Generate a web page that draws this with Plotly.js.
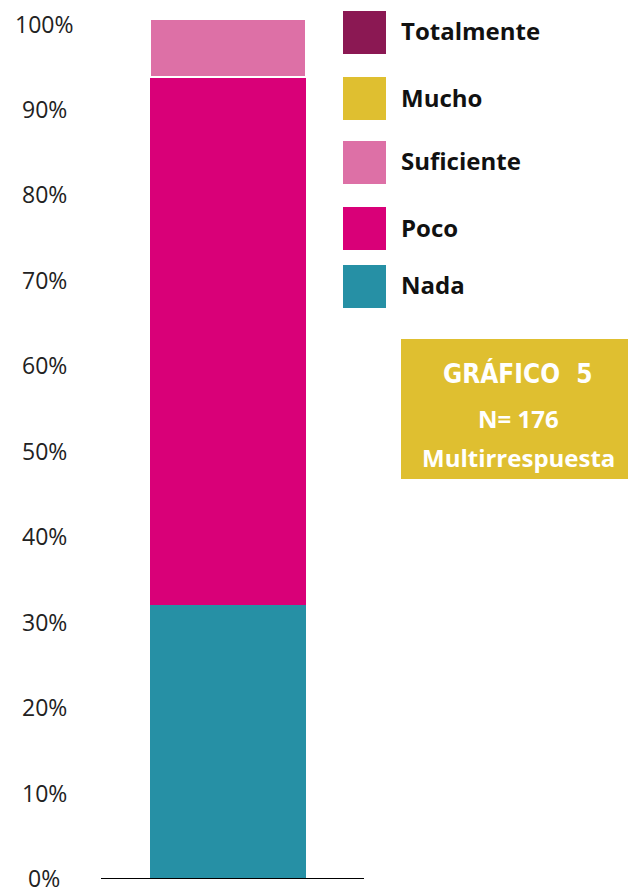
<!DOCTYPE html>
<html>
<head>
<meta charset="utf-8">
<script src="https://cdn.plot.ly/plotly-3.0.1.min.js"></script>
<style>html,body{margin:0;padding:0;background:#fff;}#chart{width:629px;height:888px;}</style>
</head>
<body>
<div id="chart"></div>
<script>
// ---- data ----
const categories = ['Nada', 'Poco', 'Suficiente', 'Mucho', 'Totalmente'];
const values = [32.0, 61.7, 6.8, 0, 0];
const tickValues = [0, 10, 20, 30, 40, 50, 60, 70, 80, 90, 100];
const tickLabels = ['0%', '10%', '20%', '30%', '40%', '50%', '60%', '70%', '80%', '90%', '100%'];
const boxTitle = 'GRÁFICO  5';
const boxN = 'N= 176';
const boxNote = 'Multirrespuesta';

// ---- styles ----
const colors = {
  'Nada': '#2690A5',
  'Poco': '#D90078',
  'Suficiente': '#DD70A6',
  'Mucho': '#DFBF30',
  'Totalmente': '#8B1853'
};
const W = 629, H = 888;
const M = {l: 101, r: 265, t: 15, b: 10};
const PW = W - M.l - M.r, PH = H - M.t - M.b;
const px = x => (x - M.l) / PW;
const py = y => 1 - (y - M.t) / PH;

const traces = categories.map(c => ({
  type: 'bar',
  name: c,
  x: [0],
  y: [values[categories.indexOf(c)]],
  width: 0.593,
  marker: {
    color: colors[c],
    line: {color: '#ffffff', width: c === 'Suficiente' ? 2 : 0}
  },
  hoverinfo: 'skip'
}));

const annotations = [];
const shapes = [];

// y tick labels (centered, as in the reference)
tickValues.forEach((v, i) => {
  annotations.push({
    xref: 'paper', yref: 'y', x: px(44), y: v, yshift: 0,
    text: tickLabels[i], showarrow: false, xanchor: 'center', yanchor: 'middle',
    font: {family: 'Open Sans, Noto Sans, sans-serif', size: 23, color: '#222222'}
  });
});

// custom legend (top to bottom)
const legendOrder = categories.slice().reverse();
const legendCenters = [32.5, 98.5, 162.5, 228.5, 286.5];
legendOrder.forEach((c, i) => {
  const cy = legendCenters[i];
  shapes.push({
    type: 'rect', xref: 'paper', yref: 'paper',
    x0: px(343), x1: px(386), y0: py(cy - 21.5), y1: py(cy + 21.5),
    fillcolor: colors[c], line: {width: 0}
  });
  annotations.push({
    xref: 'paper', yref: 'paper', x: px(399), y: py(cy - 1.5),
    text: '<b>' + c + '</b>', showarrow: false, xanchor: 'left', yanchor: 'middle',
    font: {family: 'Open Sans, Noto Sans, sans-serif', size: 24, color: '#111111'}
  });
});

// yellow info box
shapes.push({
  type: 'rect', xref: 'paper', yref: 'paper',
  x0: px(401), x1: px(628), y0: py(479), y1: py(339),
  fillcolor: '#DFBF30', line: {width: 0}
});
annotations.push({
  xref: 'paper', yref: 'paper', x: px(518), y: py(373),
  text: '<span style="font-family:\'DejaVu Sans\';font-stretch:condensed;font-weight:bold">' + boxTitle + '</span>',
  showarrow: false, xanchor: 'center', yanchor: 'middle',
  font: {family: 'DejaVu Sans', size: 26, color: '#ffffff'}
});
annotations.push({
  xref: 'paper', yref: 'paper', x: px(518), y: py(418.5),
  text: '<b>' + boxN + '</b>', showarrow: false, xanchor: 'center', yanchor: 'middle',
  font: {family: 'Open Sans, Noto Sans, sans-serif', size: 24, color: '#ffffff'}
});
annotations.push({
  xref: 'paper', yref: 'paper', x: px(518), y: py(457),
  text: '<b>' + boxNote + '</b>', showarrow: false, xanchor: 'center', yanchor: 'middle',
  font: {family: 'Open Sans, Noto Sans, sans-serif', size: 24, color: '#ffffff'}
});

const layout = {
  width: W, height: H,
  margin: M,
  paper_bgcolor: '#ffffff', plot_bgcolor: '#ffffff',
  barmode: 'stack',
  showlegend: false,
  xaxis: {
    range: [-0.483, 0.517], showgrid: false, zeroline: false,
    showticklabels: false, ticks: '', showline: true, linecolor: '#000000', linewidth: 1,
    fixedrange: true
  },
  yaxis: {
    range: [0, 101], showgrid: false, zeroline: false,
    showticklabels: false, ticks: '', showline: false, fixedrange: true
  },
  annotations: annotations,
  shapes: shapes
};

Plotly.newPlot('chart', traces, layout, {staticPlot: true, displayModeBar: false});
</script>
</body>
</html>
